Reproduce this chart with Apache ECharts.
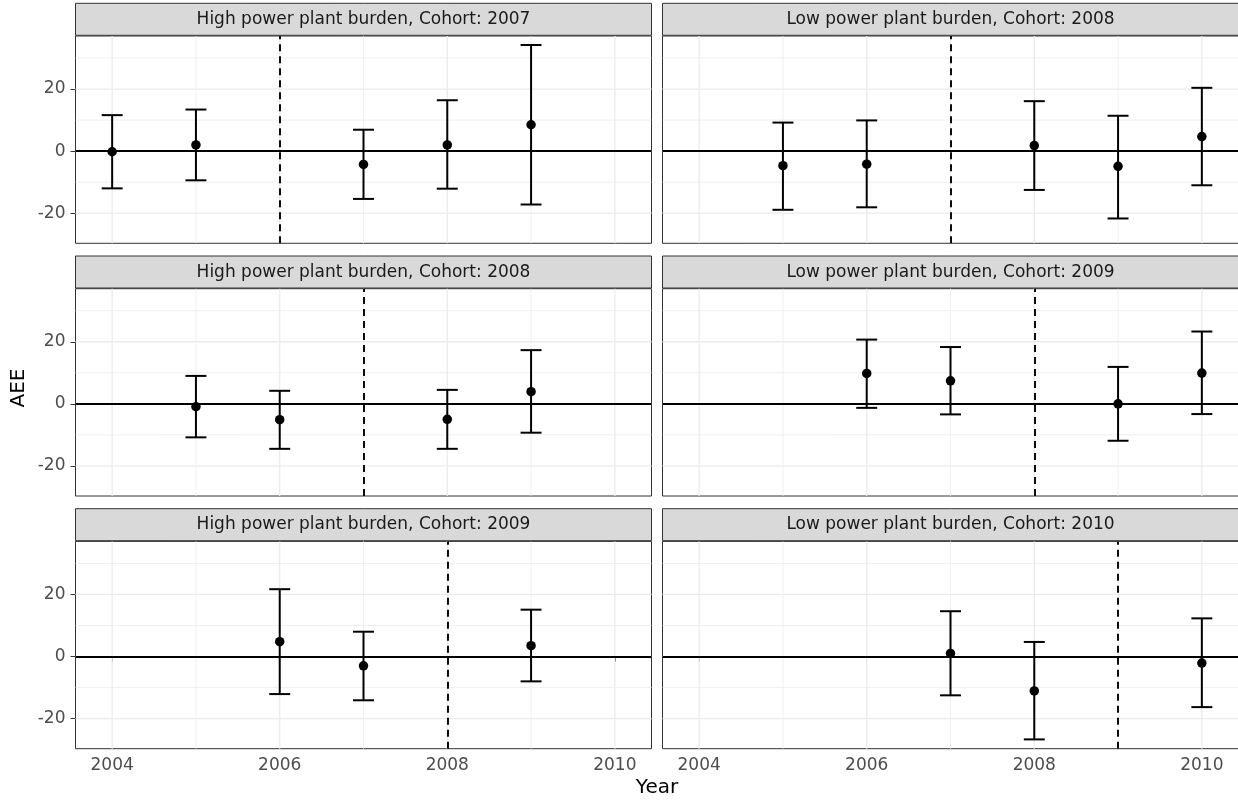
<!DOCTYPE html>
<html>
<head>
<meta charset="UTF-8">
<title>AEE by year</title>
<script src="https://cdn.jsdelivr.net/npm/echarts@6.0.0/dist/echarts.min.js"></script>
<style>
    html, body { margin: 0; padding: 0; background: #fff; }
    #main { width: 1238px; height: 803px; }
</style>
</head>
<body>
<div id="main"></div>
<script>
    // facet titles and cohort of each panel (row by row, left then right)
    var panelTitles = [
        'High power plant burden, Cohort: 2007',
        'Low power plant burden, Cohort: 2008',
        'High power plant burden, Cohort: 2008',
        'Low power plant burden, Cohort: 2009',
        'High power plant burden, Cohort: 2009',
        'Low power plant burden, Cohort: 2010'
    ];
    var cohortYears = [2007, 2008, 2008, 2009, 2009, 2010];

    var highC2007Year = [2004, 2005, 2007, 2008, 2009];
    var highC2007Est = [-0.2, 2.0, -4.3, 2.0, 8.5];
    var highC2007Lo = [-12.0, -9.4, -15.4, -12.1, -17.2];
    var highC2007Hi = [11.6, 13.4, 6.9, 16.4, 34.2];

    var lowC2008Year = [2005, 2006, 2008, 2009, 2010];
    var lowC2008Est = [-4.7, -4.2, 1.8, -4.9, 4.7];
    var lowC2008Lo = [-18.9, -18.1, -12.5, -21.7, -11.0];
    var lowC2008Hi = [9.2, 9.9, 16.1, 11.4, 20.4];

    var highC2008Year = [2005, 2006, 2008, 2009];
    var highC2008Est = [-0.9, -5.1, -5.0, 3.9];
    var highC2008Lo = [-10.8, -14.5, -14.5, -9.3];
    var highC2008Hi = [9.0, 4.2, 4.5, 17.3];

    var lowC2009Year = [2006, 2007, 2009, 2010];
    var lowC2009Est = [9.8, 7.4, 0.0, 9.9];
    var lowC2009Lo = [-1.3, -3.4, -11.9, -3.3];
    var lowC2009Hi = [20.7, 18.3, 11.9, 23.3];

    var highC2009Year = [2006, 2007, 2009];
    var highC2009Est = [4.8, -3.0, 3.5];
    var highC2009Lo = [-12.1, -14.1, -8.0];
    var highC2009Hi = [21.7, 8.0, 15.1];

    var lowC2010Year = [2007, 2008, 2010];
    var lowC2010Est = [1.0, -11.1, -2.1];
    var lowC2010Lo = [-12.5, -26.7, -16.3];
    var lowC2010Hi = [14.6, 4.7, 12.3];

    // tick labels / grid lines
    var xMajor = [2004, 2006, 2008, 2010];
    var xMinor = [2005, 2007, 2009];
    var yMajor = [-20, 0, 20];
    var yMinor = [-10, 10, 30];

    var panels = [
        [highC2007Year, highC2007Est, highC2007Lo, highC2007Hi],
        [lowC2008Year, lowC2008Est, lowC2008Lo, lowC2008Hi],
        [highC2008Year, highC2008Est, highC2008Lo, highC2008Hi],
        [lowC2009Year, lowC2009Est, lowC2009Lo, lowC2009Hi],
        [highC2009Year, highC2009Est, highC2009Lo, highC2009Hi],
        [lowC2010Year, lowC2010Est, lowC2010Lo, lowC2010Hi]
    ];

    var FONT = '"DejaVu Sans", sans-serif';
    var colLeft = [75.5, 662.5];
    var rowTop = [36, 288.7, 541.4];
    var panelW = 576, panelH = 207.3;
    var capHalf = 0.125;

    var gridRows = [];
    xMajor.forEach(function (v) { gridRows.push([v, 0]); });
    xMinor.forEach(function (v) { gridRows.push([v, 1]); });
    yMajor.forEach(function (v) { gridRows.push([v, 2]); });
    yMinor.forEach(function (v) { gridRows.push([v, 3]); });

    // background grid lines (major / minor) drawn through the axes
    function renderGridLine(params, api) {
        var cs = params.coordSys;
        var v = api.value(0), kind = api.value(1);
        var w = (kind === 0 || kind === 2) ? 1.3 : 0.8;
        var shape;
        if (kind < 2) {
            var px = api.coord([v, 0])[0];
            shape = {x1: px, y1: cs.y, x2: px, y2: cs.y + cs.height};
        } else {
            var py = api.coord([2005, v])[1];
            shape = {x1: cs.x, y1: py, x2: cs.x + cs.width, y2: py};
        }
        return {type: 'line', shape: shape, style: {stroke: '#EBEBEB', lineWidth: w}};
    }

    function renderErrorBar(params, api) {
        var x = api.value(0), lo = api.value(2), hi = api.value(3);
        var pTop = api.coord([x, hi]);
        var pBot = api.coord([x, lo]);
        var l = api.coord([x - capHalf, hi])[0];
        var r = api.coord([x + capHalf, hi])[0];
        return {
            type: 'group',
            children: [
                {type: 'line', shape: {x1: pTop[0], y1: pTop[1], x2: pBot[0], y2: pBot[1]}, style: {stroke: '#000', lineWidth: 2}},
                {type: 'line', shape: {x1: l, y1: pTop[1], x2: r, y2: pTop[1]}, style: {stroke: '#000', lineWidth: 2}},
                {type: 'line', shape: {x1: l, y1: pBot[1], x2: r, y2: pBot[1]}, style: {stroke: '#000', lineWidth: 2}}
            ]
        };
    }

    var grids = [], xAxes = [], yAxes = [], series = [], graphics = [];

    for (var i = 0; i < 6; i++) {
        var row = Math.floor(i / 2), col = i % 2;
        var gLeft = colLeft[col], gTop = rowTop[row];
        grids.push({
            left: gLeft, top: gTop, width: panelW, height: panelH,
            show: true, backgroundColor: '#fff', borderColor: '#333333', borderWidth: 1,
            containLabel: false, outerBoundsMode: 'none'
        });
        var bottomRow = row === 2, leftCol = col === 0;
        xAxes.push({
            type: 'value', gridIndex: i, min: 2003.5625, max: 2010.4375,
            axisLine: {show: false},
            splitLine: {show: false},
            axisTick: {show: bottomRow, customValues: xMajor, length: 5, lineStyle: {color: '#333333', width: 1}},
            axisLabel: {
                show: bottomRow, customValues: xMajor, margin: 8, color: '#4D4D4D', fontSize: 17, fontFamily: FONT,
                formatter: function (v) { return String(v); }
            }
        });
        yAxes.push({
            type: 'value', gridIndex: i, min: -29.7, max: 37.1,
            axisLine: {show: false},
            splitLine: {show: false},
            axisTick: {show: leftCol, customValues: yMajor, length: 5, lineStyle: {color: '#333333', width: 1}},
            axisLabel: {show: leftCol, customValues: yMajor, margin: 10, color: '#4D4D4D', fontSize: 17, fontFamily: FONT}
        });

        var d = panels[i], bars = [], pts = [];
        for (var k = 0; k < d[0].length; k++) {
            bars.push([d[0][k], d[1][k], d[2][k], d[3][k]]);
            pts.push([d[0][k], d[1][k]]);
        }

        series.push({
            type: 'custom', xAxisIndex: i, yAxisIndex: i, z: 1, silent: true,
            renderItem: renderGridLine, data: gridRows
        });
        series.push({
            type: 'custom', xAxisIndex: i, yAxisIndex: i, z: 3, silent: true,
            renderItem: renderErrorBar, encode: {x: 0, y: [1, 2, 3]}, data: bars,
            markLine: {
                silent: true, symbol: 'none', label: {show: false},
                emphasis: {disabled: true},
                data: [
                    {yAxis: 0, lineStyle: {type: 'solid', width: 1.9, color: '#000'}},
                    {xAxis: cohortYears[i] - 1, lineStyle: {type: [7, 5], width: 1.9, color: '#000'}}
                ]
            }
        });
        series.push({
            type: 'scatter', xAxisIndex: i, yAxisIndex: i, z: 4, silent: true,
            symbol: 'circle', symbolSize: 9.5, itemStyle: {color: '#000', opacity: 1},
            data: pts
        });

        // facet strip
        graphics.push({
            type: 'rect', silent: true,
            shape: {x: gLeft, y: gTop - 32.7, width: panelW, height: 32},
            style: {fill: '#D9D9D9', stroke: '#333333', lineWidth: 1}
        });
        graphics.push({
            type: 'text', silent: true,
            style: {
                x: gLeft + panelW / 2, y: gTop - 16.5, text: panelTitles[i],
                fill: '#1A1A1A', font: '17px ' + FONT,
                textAlign: 'center', textVerticalAlign: 'middle', align: 'center', verticalAlign: 'middle'
            }
        });
    }

    graphics.push({
        type: 'text', silent: true,
        style: {
            x: 657, y: 788, text: 'Year', fill: '#000', font: '20px ' + FONT,
            textAlign: 'center', textVerticalAlign: 'middle', align: 'center', verticalAlign: 'middle'
        }
    });
    graphics.push({
        type: 'text', silent: true, x: 19, y: 388, rotation: Math.PI / 2,
        style: {
            x: 0, y: 0, text: 'AEE', fill: '#000', font: '20px ' + FONT,
            textAlign: 'center', textVerticalAlign: 'middle', align: 'center', verticalAlign: 'middle'
        }
    });

    var myChart = echarts.init(document.getElementById('main'));
    myChart.setOption({
        animation: false,
        backgroundColor: '#fff',
        grid: grids,
        xAxis: xAxes,
        yAxis: yAxes,
        series: series,
        graphic: graphics
    });
</script>
</body>
</html>
